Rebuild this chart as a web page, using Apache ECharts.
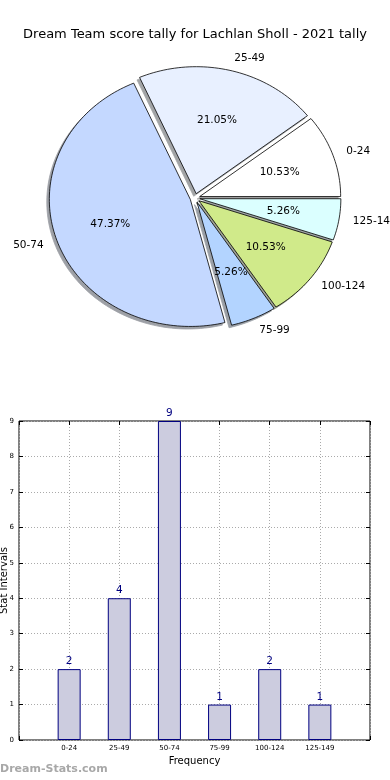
<!DOCTYPE html>
<html><head><meta charset="utf-8">
<script src="https://cdn.jsdelivr.net/npm/echarts@6/dist/echarts.min.js"></script>
<style>html,body{margin:0;padding:0;background:#fff}#c{width:390px;height:780px}</style>
</head><body><div id="c"></div>
<script>
const categories = ['0-24','25-49','50-74','75-99','100-124','125-149'];
const counts = [2, 4, 9, 1, 2, 1];
const sliceColors = ['#ffffff','#e8f0ff','#c4d8ff','#b3d4ff','#d0ea8a','#dbffff'];
const yTicks = [0,1,2,3,4,5,6,7,8,9];

const total = counts.reduce((a,b)=>a+b,0);
const EXPLODE = 0.035;
const FONT = 'DejaVu Sans';

function sliceGeom(i){
  let start = 0; for (let k=0;k<i;k++) start += counts[k];
  const a0 = start/total*2*Math.PI, a1 = (start+counts[i])/total*2*Math.PI;
  const mid = (a0+a1)/2;
  return {a0, a1, mid, ox: EXPLODE*Math.cos(mid), oy: EXPLODE*Math.sin(mid)};
}
function wedgePoints(api, i, dx, dy){
  const g = sliceGeom(i);
  const pts = [api.coord([g.ox+dx, g.oy+dy])];
  const n = Math.max(10, Math.ceil((g.a1-g.a0)/(Math.PI/120)));
  for (let k=0;k<=n;k++){
    const t = g.a0+(g.a1-g.a0)*k/n;
    pts.push(api.coord([g.ox+dx+Math.cos(t), g.oy+dy+Math.sin(t)]));
  }
  return pts;
}
function shadowColor(hex){
  const r=parseInt(hex.slice(1,3),16), g=parseInt(hex.slice(3,5),16), b=parseInt(hex.slice(5,7),16);
  const m = c => Math.round(255*0.5 + 0.3*c*0.5);
  return 'rgb('+m(r)+','+m(g)+','+m(b)+')';
}
const pieData = counts.map((v,i)=>[i, v]);
const tickStyle = {show: true, inside: true, length: 4, lineStyle: {color: '#000'}};

const chart = echarts.init(document.getElementById('c'), null, {renderer:'canvas'});
chart.setOption({
  animation: false,
  backgroundColor: '#ffffff',
  title: {text: 'Dream Team score tally for Lachlan Sholl - 2021 tally', left: 'center', top: 23,
    textStyle: {fontSize: 13, fontWeight: 'normal', color: '#000', fontFamily: FONT}},
  graphic: [{type:'text', left: 0, top: 764, style:{text:'Dream-Stats.com', fill:'#a8a8a8', font:'bold 11px "DejaVu Sans"'}}],
  grid: [
    {left: 11.7, top: 32.9, width: 366.6, height: 330.2, show: false, containLabel: false, outerBoundsMode: 'none'},
    {left: 19, top: 421, width: 351, height: 319, show: true, borderColor: '#000', borderWidth: 1, backgroundColor: 'transparent', containLabel: false, outerBoundsMode: 'none'}
  ],
  xAxis: [
    {gridIndex: 0, type: 'value', min: -1.3, max: 1.3, show: false},
    {gridIndex: 1, type: 'value', min: -1, max: 6, interval: 1, position: 'bottom',
      axisLine: {show: false, onZero: false},
      axisTick: tickStyle,
      axisLabel: {fontSize: 7, color: '#000', fontFamily: FONT, margin: 5, formatter: v => (categories[v] !== undefined ? categories[v] : '')},
      splitLine: {show: true, lineStyle: {type: [1,2], color: '#aaaaaa'}},
      name: 'Frequency', nameLocation: 'middle', nameGap: 16, nameMoveOverlap: false,
      nameTextStyle: {fontSize: 10, color: '#000', fontFamily: FONT}},
    {gridIndex: 1, type: 'value', min: -1, max: 6, interval: 1, position: 'top',
      axisLine: {show: false, onZero: false}, axisLabel: {show: false}, splitLine: {show: false},
      axisTick: tickStyle}
  ],
  yAxis: [
    {gridIndex: 0, type: 'value', min: -1.3, max: 1.3, show: false},
    {gridIndex: 1, type: 'value', min: yTicks[0], max: yTicks[yTicks.length-1], interval: 1, position: 'left',
      axisLine: {show: false, onZero: false},
      axisTick: tickStyle,
      axisLabel: {fontSize: 7, color: '#000', fontFamily: FONT, margin: 5},
      splitLine: {show: true, lineStyle: {type: [1,2], color: '#aaaaaa'}},
      name: 'Stat Intervals', nameLocation: 'middle', nameGap: 10, nameMoveOverlap: false,
      nameTextStyle: {fontSize: 10, color: '#000', fontFamily: FONT}},
    {gridIndex: 1, type: 'value', min: yTicks[0], max: yTicks[yTicks.length-1], interval: 1, position: 'right',
      axisLine: {show: false, onZero: false}, axisLabel: {show: false}, splitLine: {show: false},
      axisTick: tickStyle}
  ],
  series: [
    {type: 'custom', xAxisIndex: 0, yAxisIndex: 0, data: pieData, silent: true,
      renderItem: (params, api) => {
        const i = api.value(0);
        const c = shadowColor(sliceColors[i]);
        return {type: 'polygon', shape: {points: wedgePoints(api, i, -0.018, -0.02)}, style: {fill: c, stroke: c, lineWidth: 0.8}};
      }},
    {type: 'custom', xAxisIndex: 0, yAxisIndex: 0, data: pieData, silent: true,
      renderItem: (params, api) => {
        const i = api.value(0);
        return {type: 'polygon', shape: {points: wedgePoints(api, i, 0, 0)}, style: {fill: sliceColors[i], stroke: '#000', lineWidth: 0.8}};
      }},
    {type: 'custom', xAxisIndex: 0, yAxisIndex: 0, data: pieData, silent: true,
      renderItem: (params, api) => {
        const i = api.value(0);
        const g = sliceGeom(i);
        const c = Math.cos(g.mid), s = Math.sin(g.mid);
        const p1 = api.coord([g.ox + 0.6*c, g.oy + 0.6*s]);
        const p2 = api.coord([g.ox + 1.1*c, g.oy + 1.1*s]);
        const pct = (api.value(1)/total*100).toFixed(2) + '%';
        return {type: 'group', children: [
          {type: 'text', x: p1[0], y: p1[1], style: {text: pct, fill: '#000', font: '10.5px "DejaVu Sans"', align: 'center', verticalAlign: 'middle'}},
          {type: 'text', x: p2[0], y: p2[1], style: {text: categories[i], fill: '#000', font: '10.5px "DejaVu Sans"', align: c > 0 ? 'left' : 'right', verticalAlign: 'middle'}}
        ]};
      }},
    {type: 'bar', xAxisIndex: 1, yAxisIndex: 1, barWidth: 23,
      data: counts.map((v,i)=>[i, v]),
      itemStyle: {color: '#ccccdf', borderColor: '#000080', borderWidth: 1},
      label: {show: true, position: 'top', distance: 2, color: '#000080', fontSize: 10.5, fontFamily: FONT, formatter: p => p.value[1]}}
  ]
});
</script></body></html>
